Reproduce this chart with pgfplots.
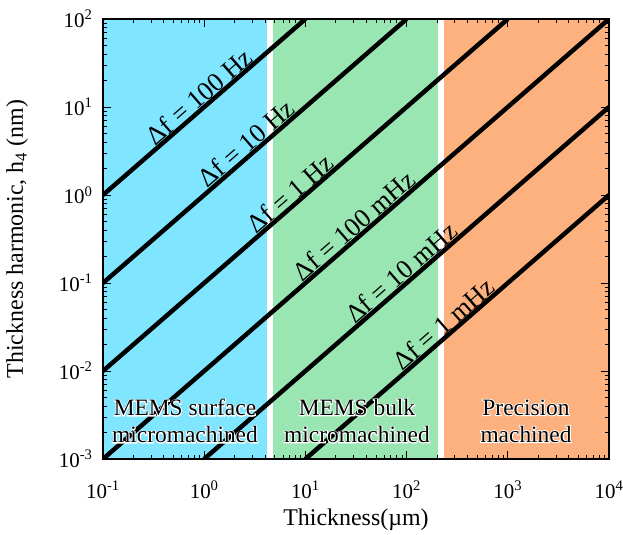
\documentclass[border=0pt]{standalone}
\usepackage{fontspec}
\setmainfont{Liberation Serif}
\newfontfamily\halofont[FakeBold=8]{Liberation Serif}
\usepackage{pgfplots}
\pgfplotsset{compat=1.18}
\definecolor{cyanR}{RGB}{128,229,255}
\definecolor{greenR}{RGB}{153,230,179}
\definecolor{orangeR}{RGB}{252,177,127}
\newcommand\regfont{\fontsize{23.5}{27}\selectfont}
\newcommand\linefont{\fontsize{26.5}{30}\selectfont}
\newcommand\halo[2]{%
  \node[white, align=center, font=\halofont\regfont] at (#1) {#2};%
  \node[black, align=center, font=\regfont] at (#1) {#2};}
\begin{document}
\begin{tikzpicture}
\begin{axis}[
  scale only axis, width=506bp, height=440bp,
  xmode=log, ymode=log,
  xmin=0.1, xmax=10000, ymin=0.001, ymax=100,
  axis on top,
  tick align=inside, tick pos=both,
  xticklabel pos=lower, yticklabel pos=left,
  axis line style={line width=1.6pt},
  major tick length=8bp, minor tick length=4bp,
  every tick/.style={black, line width=0.9pt},
  xtick={0.1,1,10,100,1000,10000},
  xticklabels={10\textsuperscript{-1},10\textsuperscript{0},10\textsuperscript{1},10\textsuperscript{2},10\textsuperscript{3},10\textsuperscript{4}},
  ytick={0.001,0.01,0.1,1,10,100},
  yticklabels={10\textsuperscript{-3},10\textsuperscript{-2},10\textsuperscript{-1},10\textsuperscript{0},10\textsuperscript{1},10\textsuperscript{2}},
  xticklabel style={font=\fontsize{21}{24}\selectfont, anchor=base, yshift=-39bp},
  yticklabel style={font=\fontsize{21}{24}\selectfont, xshift=-7bp},
]
% regions
\addplot[fill=cyanR, draw=none] coordinates {(0.1,0.001) (4.2,0.001) (4.2,100) (0.1,100)} -- cycle;
\addplot[fill=greenR, draw=none] coordinates {(4.75,0.001) (205,0.001) (205,100) (4.75,100)} -- cycle;
\addplot[fill=orangeR, draw=none] coordinates {(236,0.001) (10000,0.001) (10000,100) (236,100)} -- cycle;
% iso-frequency lines
\addplot[black, line width=4.5pt] coordinates {(0.1,1) (10,100)};
\addplot[black, line width=4.5pt] coordinates {(0.1,0.1) (100,100)};
\addplot[black, line width=4.5pt] coordinates {(0.1,0.01) (1000,100)};
\addplot[black, line width=4.5pt] coordinates {(0.1,0.001) (10000,100)};
\addplot[black, line width=4.5pt] coordinates {(1,0.001) (10000,10)};
\addplot[black, line width=4.5pt] coordinates {(10,0.001) (10000,1)};
% labels
\node[rotate=41, anchor=south, inner ysep=1.8pt, inner xsep=0pt, font=\linefont] at (axis cs:1.054,10.54) {Δf = 100 Hz};
\node[rotate=41, anchor=south, inner ysep=1.8pt, inner xsep=0pt, font=\linefont] at (axis cs:3.08,3.08) {Δf = 10 Hz};
\node[rotate=41, anchor=south, inner ysep=1.8pt, inner xsep=0pt, font=\linefont] at (axis cs:8.35,0.835) {Δf = 1 Hz};
\node[rotate=41, anchor=south, inner ysep=1.8pt, inner xsep=0pt, font=\linefont] at (axis cs:35.9,0.359) {Δf = 100 mHz};
\node[rotate=41, anchor=south, inner ysep=1.8pt, inner xsep=0pt, font=\linefont] at (axis cs:105,0.105) {Δf = 10 mHz};
\node[rotate=41, anchor=south, inner ysep=1.8pt, inner xsep=0pt, font=\linefont] at (axis cs:274,0.0274) {Δf = 1 mHz};
\end{axis}
\coordinate (r1) at ([shift={(82bp,38bp)}]current axis.south west);
\coordinate (r2) at ([shift={(254bp,38bp)}]current axis.south west);
\coordinate (r3) at ([shift={(423bp,38bp)}]current axis.south west);
\halo{r1}{MEMS surface\\micromachined}
\halo{r2}{MEMS bulk\\micromachined}
\halo{r3}{Precision\\machined}
\node[anchor=base, font=\fontsize{24}{28}\selectfont] at ([yshift=-66bp]current axis.south) {Thickness(µm)};
\node[rotate=90, anchor=base, font=\fontsize{24}{28}\selectfont] at ([xshift=-80bp]current axis.west) {Thickness harmonic, h\textsubscript{4} (nm)};
\pgfresetboundingbox
\path ([shift={(-103bp,-76bp)}]current axis.south west) rectangle ++(623bp,535bp);
\end{tikzpicture}
\end{document}
